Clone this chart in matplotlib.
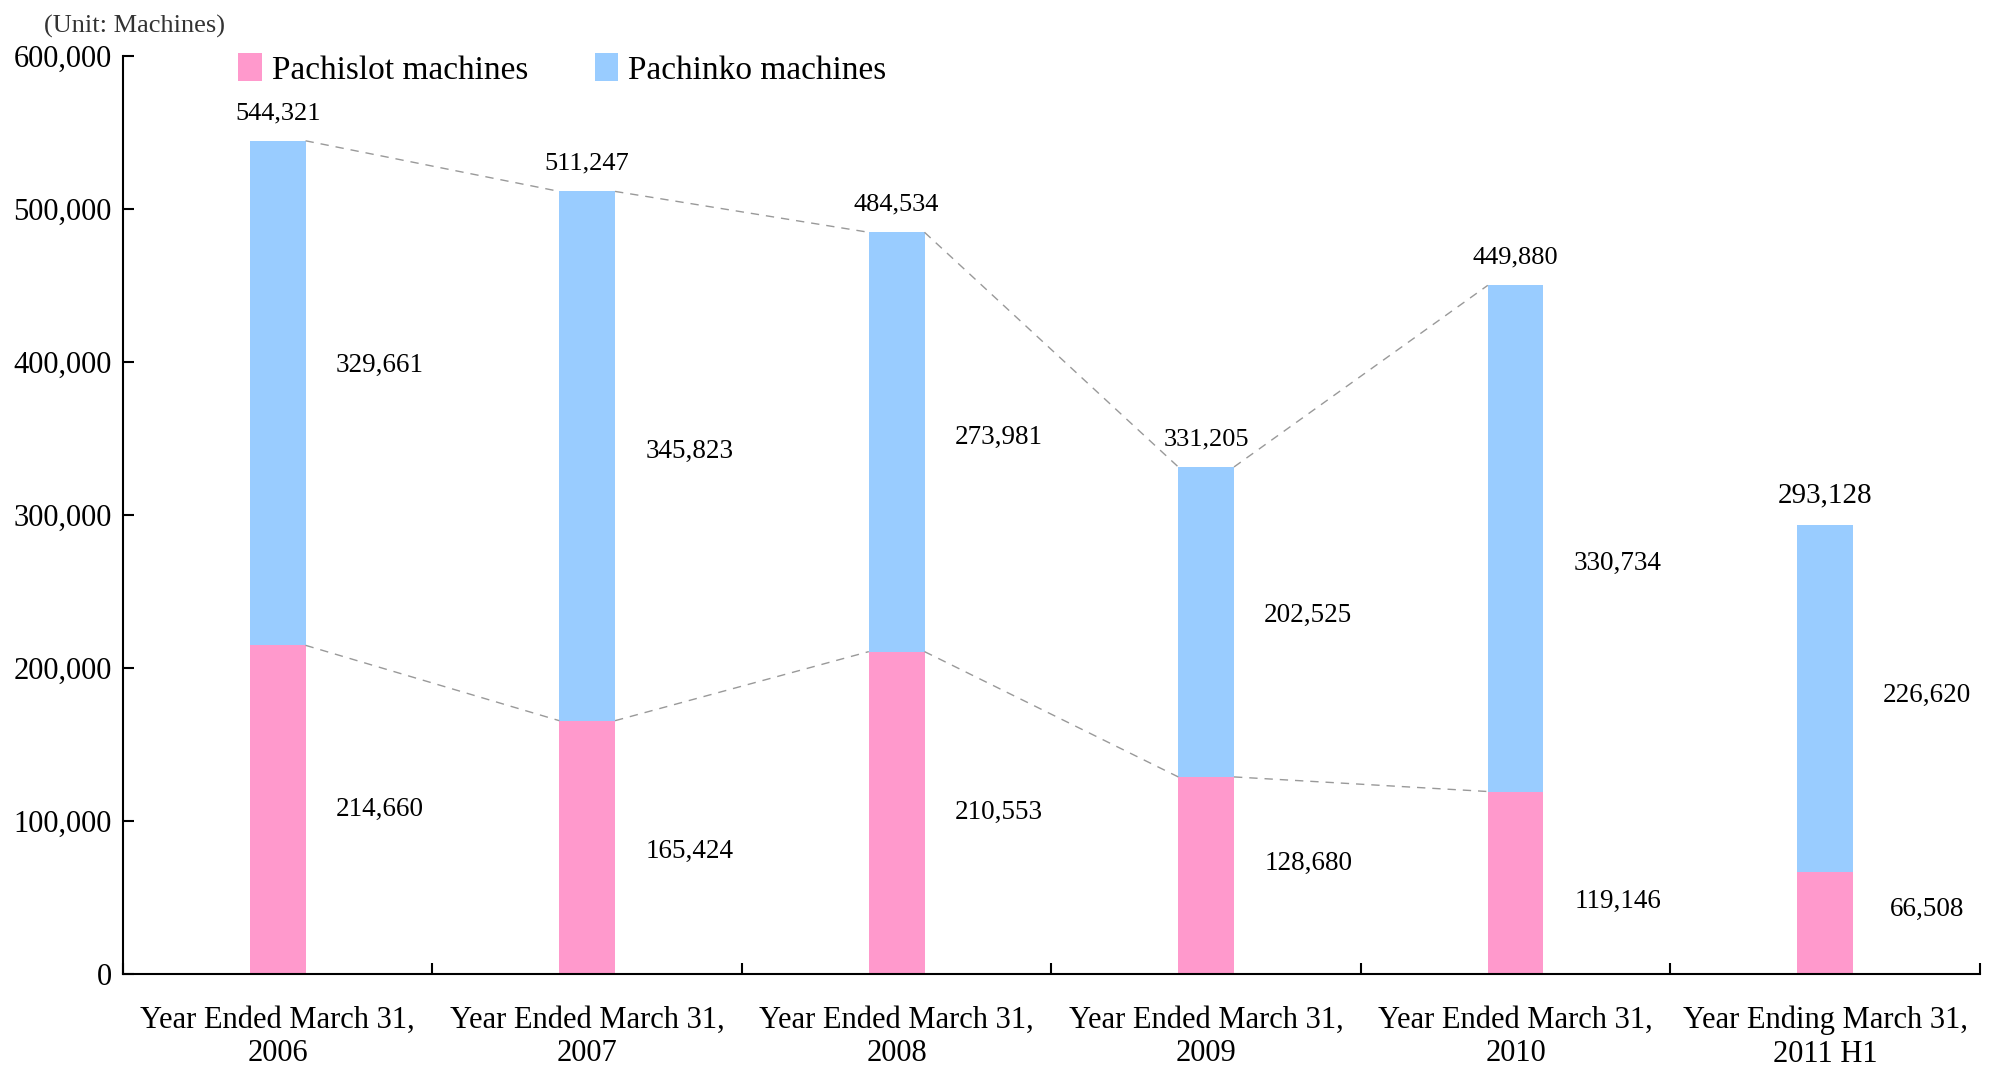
import numpy as np
import matplotlib.pyplot as plt
from matplotlib.ticker import FuncFormatter

categories = ["Year Ended March 31,\n2006", "Year Ended March 31,\n2007",
              "Year Ended March 31,\n2008", "Year Ended March 31,\n2009",
              "Year Ended March 31,\n2010", "Year Ending March 31,\n2011 H1"]
pachislot = [214660, 165424, 210553, 128680, 119146, 66508]
pachinko = [329661, 345823, 273981, 202525, 330734, 226620]
totals = [544321, 511247, 484534, 331205, 449880, 293128]

# small vertical nudges of the segment labels, as placed in the original
slot_nudge = [0, -3000, 0, 8000, -12000, 9000]
pachi_nudge = [18000, 3000, 3000, 4000, -16000, 2000]

pink = "#FF99CC"
blue = "#99CCFF"

plt.rcParams["font.family"] = ["Liberation Serif", "DejaVu Serif"]

fig = plt.figure(figsize=(19.93, 10.69), dpi=100)
ax = fig.add_axes([0.0617, 0.089, 0.9317, 0.859])

x = np.arange(len(categories))
w = 0.18
ax.bar(x, pachislot, w, color=pink, label="Pachislot machines")
ax.bar(x, pachinko, w, bottom=pachislot, color=blue, label="Pachinko machines")

# dashed connectors between neighbouring bars (not to the last half-year bar)
for i in range(len(x) - 2):
    ax.plot([x[i] + w / 2, x[i + 1] - w / 2], [totals[i], totals[i + 1]],
            ls=(0, (6, 5)), color="#999999", lw=1)
    ax.plot([x[i] + w / 2, x[i + 1] - w / 2], [pachislot[i], pachislot[i + 1]],
            ls=(0, (6, 5)), color="#999999", lw=1)

for i in x:
    ax.text(i + 0.33, pachislot[i] / 2 + slot_nudge[i], f"{pachislot[i]:,}",
            ha="center", va="center", fontsize=19.5)
    ax.text(i + 0.33, pachislot[i] + pachinko[i] / 2 + pachi_nudge[i],
            f"{pachinko[i]:,}", ha="center", va="center", fontsize=19.5)
    fs = 21 if i == len(x) - 1 else 19
    ax.annotate(f"{totals[i]:,}", (i, totals[i]), xytext=(0, 12),
                textcoords="offset points", ha="center", va="bottom", fontsize=fs)

ax.set_xlim(-0.5, len(x) - 0.5)
ax.set_ylim(0, 600000)
ax.set_yticks(np.arange(0, 600001, 100000))
ax.yaxis.set_major_formatter(FuncFormatter(lambda v, p: f"{int(v):,}"))
ax.set_xticks(np.arange(-0.5, len(x), 1.0))
ax.set_xticklabels([])
ax.set_xticks(x, minor=True)
ax.set_xticklabels(categories, minor=True, fontsize=22)
ax.tick_params(axis="x", which="minor", length=0, pad=23)
ax.tick_params(axis="x", which="major", direction="in", length=8, width=1.5)
ax.tick_params(axis="y", direction="in", length=8, width=1.5, labelsize=22, pad=8)
for s in ["top", "right"]:
    ax.spines[s].set_visible(False)
for s in ["left", "bottom"]:
    ax.spines[s].set_linewidth(1.5)

ax.legend(loc="upper left", bbox_to_anchor=(0.046, 1.035), ncol=2, frameon=False,
          fontsize=24, handlelength=0.7, handleheight=0.9, handletextpad=0.3,
          columnspacing=2.0)

fig.text(0.022, 0.986, "(Unit: Machines)", fontsize=19, color="#333333",
         va="top", ha="left")

fig.savefig("out.png", dpi=100)
